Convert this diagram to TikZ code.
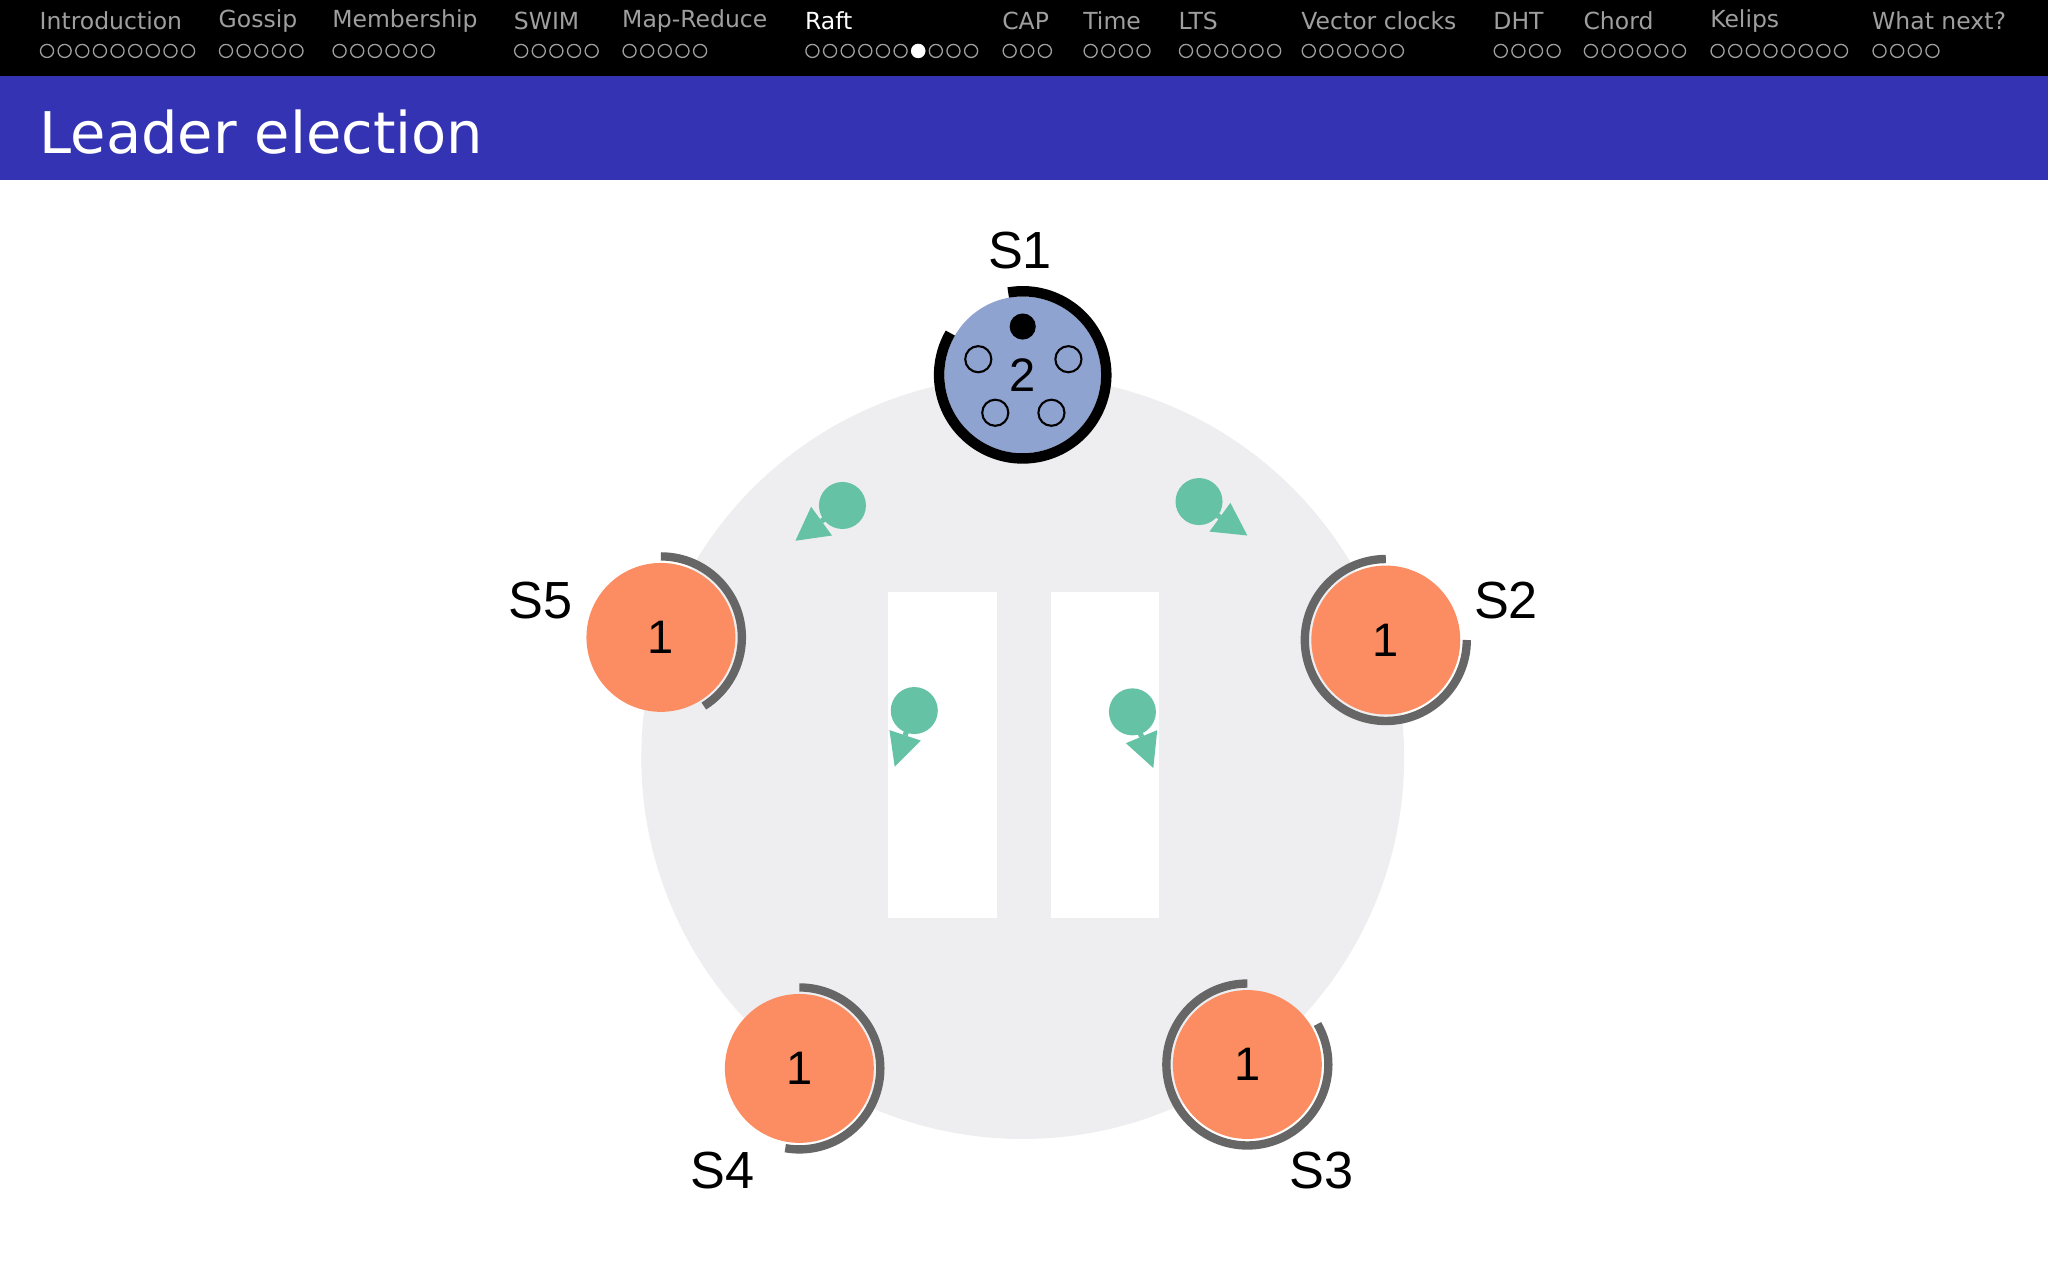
\documentclass[tikz,border=0pt]{standalone}
\usepackage{fontspec}
\setmainfont{DejaVu Sans}
\newfontfamily\arial{Liberation Sans}
\begin{document}
\begin{tikzpicture}[x=0.5pt,y=-0.5pt,
  nav/.style={anchor=west,text=gray!75,font=\fontsize{9}{10}\selectfont,inner sep=0},
  srv/.style={circle,fill=sorange,minimum size=57pt,inner sep=0,font=\arial\fontsize{18}{20}\selectfont},
  lbl/.style={font=\arial\fontsize{20}{22}\selectfont,inner sep=0},
  ringg/.style={draw=ringgray,line width=3.2pt},
  msg/.style={circle,fill=sgreen,minimum size=18pt,inner sep=0},
  tipc/.style={fill=sgreen},
  stem/.style={draw=sgreen,line width=2pt},
  odot/.style={draw=black,line width=0.8pt}]
\definecolor{sorange}{HTML}{FC8D62}
\definecolor{sblue}{HTML}{8FA3D0}
\definecolor{sgreen}{HTML}{66C2A5}
\definecolor{ringgray}{HTML}{666666}
\definecolor{bg}{HTML}{EEEEF0}
\definecolor{bar}{HTML}{3333B3}
\useasboundingbox (0,0) rectangle (1568,980);
\fill[white] (0,0) rectangle (1568,980);
\fill[black] (0,0) rectangle (1568,58);
\fill[bar] (0,58) rectangle (1568,138);
\node[anchor=west,text=white,font=\fontsize{22}{24}\selectfont,inner sep=0] (title) at (30,101) {Leader election};
% nav
\foreach \t/\x/\n in {Introduction/30/9,Gossip/167/5,Membership/254/6,SWIM/393/5,Map-Reduce/476/5,CAP/767/3,Time/829/4,LTS/902/6,Vector clocks/996/6,DHT/1143/4,Chord/1212/6,Kelips/1309/8,What next?/1433/4}{
  \node[nav] at (\x,16) {\t};
  \foreach \i in {1,...,\n}{\draw[gray!75,line width=0.5pt] (\x+6+13.5*\i-13.5,39) circle (5);}
}
\node[nav,text=white] (raft) at (616,16) {Raft};
\foreach \i in {1,...,10}{\draw[gray!75,line width=0.5pt] (616+6+13.5*\i-13.5,39) circle (5);}
\fill[white] (616+6+13.5*6,39) circle (5.5);
% background
\fill[bg] (783,580) circle (292);
\fill[white] (680,453) rectangle (763,703);
\fill[white] (805,453) rectangle (887,703);
% S1
\node[circle,fill=sblue,minimum size=60pt,inner sep=0,font=\arial\fontsize{18}{20}\selectfont] (s1) at (783,287) {2};
\draw[black,line width=4pt] (783,287) ++(-100:64) arc[start angle=-100,end angle=210,radius=64];
\fill[black] (783,250) circle (10);
\foreach \p in {(749,275),(818,275),(762,316),(805,316)}{\draw[odot] \p circle (10);}
\node[lbl] (l1) at (781,192) {S1};
% others
\node[srv] (s5) at (506,488) {1};
\draw[ringg] (506,488) ++(-90:62) arc[start angle=-90,end angle=58,radius=62];
\node[lbl] (l5) at (414,460) {S5};
\node[srv] (s2) at (1061,490) {1};
\draw[ringg] (1061,490) ++(-90:62) arc[start angle=-90,end angle=-360,radius=62];
\node[lbl] (l2) at (1153,460) {S2};
\node[srv] (s4) at (612,818) {1};
\draw[ringg] (612,818) ++(-90:62) arc[start angle=-90,end angle=100,radius=62];
\node[lbl] (l4) at (553,896) {S4};
\node[srv] (s3) at (955,815) {1};
\draw[ringg] (955,815) ++(-90:62) arc[start angle=-90,end angle=-390,radius=62];
\node[lbl] (l3) at (1012,896) {S3};
% messages
\node[msg] (m1) at (645,387) {};
\draw[stem] (m1.center) -- (629,399);
\fill[tipc] (609,414) -- (621,388) -- (637,410) -- cycle;
\node[msg] (m2) at (918,384) {};
\draw[stem] (m2.center) -- (934,396);
\fill[tipc] (955,410) -- (926,407) -- (942,385) -- cycle;
\node[msg] (m3) at (700,544) {};
\draw[stem] (m3.center) -- (693,563);
\fill[tipc] (685,587) -- (681,559) -- (705,567) -- cycle;
\node[msg] (m4) at (867,545) {};
\draw[stem] (m4.center) -- (874,564);
\fill[tipc] (883,588) -- (862,569) -- (886,559) -- cycle;
\end{tikzpicture}
\end{document}
